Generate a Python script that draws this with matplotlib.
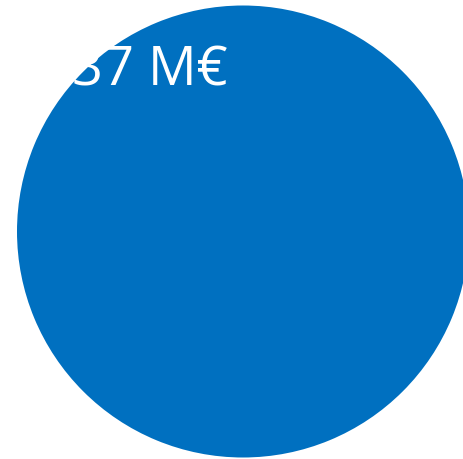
import matplotlib
matplotlib.use("Agg")
import matplotlib.pyplot as plt

labels = ["37 M€"]
values = [37]
colors = ["#0070C0"]

W, H = 463, 459
cx, cy, r = 243, 231.5, 226

fig = plt.figure(figsize=(W / 100, H / 100), dpi=100)
ax = fig.add_axes([0, 0, 1, 1])
ax.pie(values, colors=colors, startangle=90, counterclock=False,
       wedgeprops={"linewidth": 0})
ax.set_aspect("auto")
ax.set_xlim(-cx / r, (W - cx) / r)
ax.set_ylim((cy - H) / r, cy / r)
ax.axis("off")

ax.text((228 - cx) / r, (cy - 85) / r, labels[0], color="white",
        fontsize=39, family="Open Sans", ha="right", va="baseline")

fig.savefig("out.png", dpi=100)
